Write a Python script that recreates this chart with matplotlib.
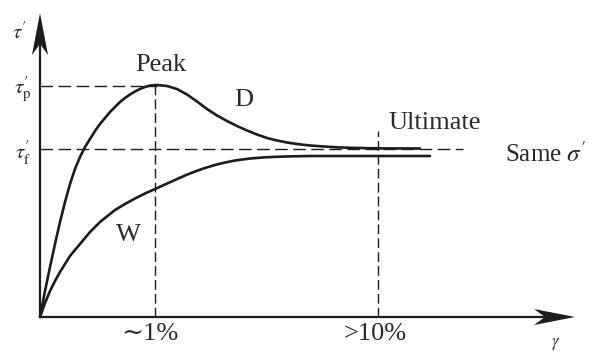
import matplotlib
matplotlib.use("Agg")
import matplotlib.pyplot as plt
from matplotlib.patches import Polygon

plt.rcParams['mathtext.fontset'] = 'stix'
SERIF = ['Liberation Serif', 'DejaVu Serif']

# Data (shear strain gamma, shear stress tau' ; arbitrary units)
d_gamma = [0, 5, 10, 15, 20, 25, 30, 35, 40, 45, 50, 55, 60, 65, 70, 75, 80, 85,
           90, 95, 100, 105, 110, 117, 127, 137, 147, 157, 167, 177, 187, 197, 207,
           217, 227, 237, 247, 257, 267, 277, 287, 297, 310, 340, 380]
d_tau = [0, 26, 50, 73, 95, 115, 133, 148, 160, 170, 178, 186, 193, 199, 205, 210,
         215, 219, 222.5, 225.5, 228, 230, 231.5, 232, 231, 228, 222.5, 215.5, 208,
         201.5, 196, 191, 186.5, 182.5, 179, 176.5, 174.5, 173, 171.8, 171, 170.3,
         169.7, 169.2, 168.6, 168.5]

w_gamma = [0, 5, 10, 15, 20, 25, 30, 35, 40, 45, 50, 55, 60, 65, 70, 75, 85, 95,
           105, 115, 125, 135, 145, 155, 165, 175, 185, 195, 210, 225, 245, 270,
           310, 390]
w_tau = [0, 14, 26, 36, 45, 53, 61, 67, 73, 79, 85, 90, 95, 99, 103, 107, 113,
         118.5, 123.5, 128, 132.5, 137, 141.5, 145.5, 149, 152, 154.5, 156.5, 158.5,
         159.7, 160.5, 161, 161, 161]

tau_p = 231
tau_f = 168
gamma_peak = 115
gamma_ult = 338

col = '#1c1c1c'
fig = plt.figure(figsize=(5.9, 3.51), dpi=100)
ax = fig.add_axes([0, 0, 1, 1])
ax.set_xlim(-40, 550)
ax.set_ylim(-34, 317)
ax.axis('off')

# axes with arrows
ax.plot([0, 0], [0, 280], color=col, lw=1.6, solid_capstyle='butt')
ax.plot([0, 515], [0, 0], color=col, lw=1.6, solid_capstyle='butt')
ax.add_patch(Polygon([(0, 304), (-8, 262), (0, 273), (8, 262)], closed=True,
                     color=col, lw=0))
ax.add_patch(Polygon([(535, 0), (494, 8), (505, 0), (494, -8)], closed=True,
                     color=col, lw=0))

# dashed reference lines
dash = dict(color=col, lw=1.0, dashes=(9, 4))
ax.plot([0, gamma_peak + 2], [tau_p, tau_p], **dash)
ax.plot([0, 423], [tau_f, tau_f], **dash)
ax.plot([gamma_peak, gamma_peak], [0, tau_p], color=col, lw=1.0, dashes=(7, 3))
ax.plot([gamma_ult, gamma_ult], [0, 186], color=col, lw=1.0, dashes=(7, 3))

# curves
ax.plot(d_gamma, d_tau, color=col, lw=1.9, solid_capstyle='round', solid_joinstyle='round')
ax.plot(w_gamma, w_tau, color=col, lw=1.9, solid_capstyle='round', solid_joinstyle='round')

tc = '#2a2a2a'
fs = 19
ax.text(-21, 285, r"$\tau^{\prime}$", fontsize=15, ha='center', va='center', color=tc)
ax.text(-17, 228, r"$\tau^{\prime}_{\mathrm{p}}$", fontsize=15, ha='center', va='center', color=tc)
ax.text(-17, 164, r"$\tau^{\prime}_{\mathrm{f}}$", fontsize=15, ha='center', va='center', color=tc)
ax.text(121, 252, "Peak", fontsize=fs, family=SERIF, ha='center', va='center', color=tc)
ax.text(204, 217, "D", fontsize=fs, family=SERIF, ha='center', va='center', color=tc)
ax.text(88, 82, "W", fontsize=fs, family=SERIF, ha='center', va='center', color=tc)
ax.text(395, 194, "Ultimate", fontsize=fs, family=SERIF, ha='center', va='center', color=tc)
ax.text(465, 163, "Same $\\sigma^{\\prime}$", fontsize=18, family=SERIF, ha='left',
        va='center', color=tc)
ax.text(110, -17, "\u223c1%", fontsize=fs, family=SERIF, ha='center', va='center', color=tc)
ax.text(335, -17, ">10%", fontsize=fs, family=SERIF, ha='center', va='center', color=tc)
ax.text(516, -26, r"$\gamma$", fontsize=12, ha='center', va='center', color=tc)

fig.savefig("out.png", dpi=100, facecolor='white')
